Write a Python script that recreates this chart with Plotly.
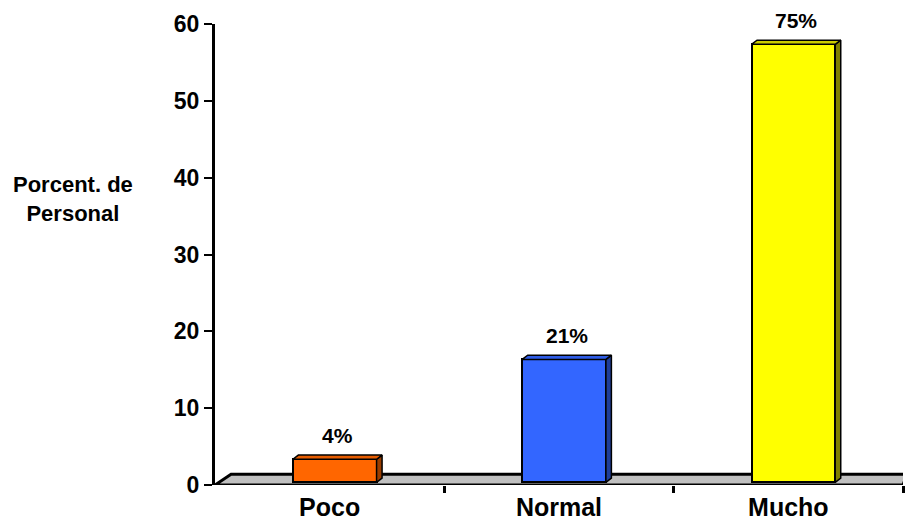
import plotly.graph_objects as go

categories = ["Poco", "Normal", "Mucho"]
values = [3, 16, 57]
pct_labels = ["4%", "21%", "75%"]
y_ticks = [0, 10, 20, 30, 40, 50, 60]

front_colors = ["#FF6600", "#3366FF", "#FFFF00"]
side_colors = ["#993D00", "#1F3D99", "#808000"]
top_colors = ["#E65C00", "#2E5CE6", "#CCCC00"]

FONT = "Arial, Liberation Sans, sans-serif"
BW = 0.365   # bar width (x units)
SHIFT = 0.022  # bars sit slightly right of category centre
DX = 0.024   # bar depth offset x
DY = 0.55    # bar depth offset y
BASE = 0.35  # bars sit slightly back on the floor
FDX = 0.07   # floor depth x
FDY = 1.4    # floor depth y

xs = list(range(len(categories)))
fig = go.Figure()

# floor (3D base)
fig.add_shape(type="path", xref="x", yref="y", layer="below",
              path=f"M -0.5 0 L 2.5 0 L {2.5 + FDX * 0.25} {FDY} L {-0.5 + FDX} {FDY} Z",
              fillcolor="#C0C0C0", line=dict(color="black", width=3))

# front faces
fig.add_trace(go.Bar(x=xs, y=values, base=BASE, width=BW, offset=-BW / 2 + SHIFT,
                     marker=dict(color=front_colors, line=dict(color="black", width=2)),
                     hoverinfo="skip", showlegend=False))

# side and top faces
for i, v in enumerate(values):
    xl = i - BW / 2 + SHIFT
    xr = i + BW / 2 + SHIFT
    top = v + BASE
    fig.add_trace(go.Scatter(
        x=[xr, xr + DX, xr + DX, xr, xr],
        y=[BASE, BASE + DY, top + DY, top, BASE],
        fill="toself", fillcolor=side_colors[i], mode="lines",
        line=dict(color="black", width=1.5), hoverinfo="skip", showlegend=False))
    fig.add_trace(go.Scatter(
        x=[xl, xl + DX, xr + DX, xr, xl],
        y=[top, top + DY, top + DY, top, top],
        fill="toself", fillcolor=top_colors[i], mode="lines",
        line=dict(color="black", width=1.5), hoverinfo="skip", showlegend=False))
    fig.add_annotation(x=i + SHIFT + DX / 2, y=top + DY, text=f"<b>{pct_labels[i]}</b>",
                       showarrow=False, yanchor="bottom", yshift=6,
                       font=dict(family=FONT, size=21, color="black"))

fig.add_annotation(xref="paper", yref="paper", x=-0.207, y=0.62,
                   xanchor="center", yanchor="middle",
                   text="<b>Porcent. de<br>Personal</b>", showarrow=False,
                   align="center", font=dict(family=FONT, size=22, color="black"))

fig.update_layout(
    width=907, height=522, autosize=False,
    margin=dict(l=215, r=4, t=24, b=37, autoexpand=False),
    plot_bgcolor="white", paper_bgcolor="white",
    bargap=0,
    xaxis=dict(range=[-0.5, 2.5], showgrid=False, zeroline=False, automargin=False,
               showline=False, tickmode="array", tickvals=xs,
               ticktext=[f"<b>{c}</b>" for c in categories], ticks="",
               ticklabelstandoff=5,
               tickfont=dict(family=FONT, size=25, color="black"),
               minor=dict(tickmode="array", tickvals=[0.5, 1.5, 2.5], ticks="outside",
                          ticklen=7, tickwidth=3, tickcolor="black")),
    yaxis=dict(range=[0, 60], showgrid=False, zeroline=False, automargin=False,
               showline=True, linecolor="black", linewidth=3,
               tickmode="array", tickvals=y_ticks,
               ticktext=[f"<b>{t}</b>" for t in y_ticks],
               ticks="outside", ticklen=8, tickwidth=2, tickcolor="black",
               tickfont=dict(family=FONT, size=23, color="black")),
)

fig.write_html("out.html", config={"displayModeBar": False},
               post_script="document.body.style.margin='0px';document.body.style.overflow='hidden';")
